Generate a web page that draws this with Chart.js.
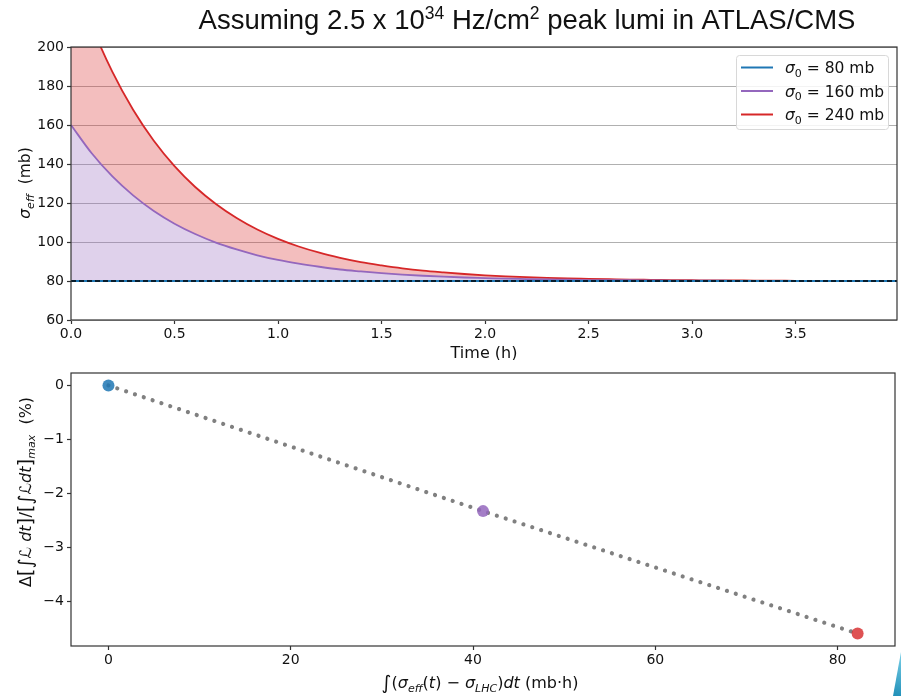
<!DOCTYPE html>
<html>
<head>
<meta charset="utf-8">
<script src="https://cdn.jsdelivr.net/npm/chart.js@4.4.1/dist/chart.umd.min.js"></script>
<style>
  html,body{margin:0;padding:0;background:#fff;}
  #wrap{position:relative;width:901px;height:696px;overflow:hidden;}
  canvas{position:absolute;left:0;}
</style>
</head>
<body>
<div id="wrap">
  <canvas id="top" width="901" height="360" style="top:0"></canvas>
  <canvas id="bot" width="901" height="336" style="top:360px"></canvas>
</div>
<script>
// ---------- data (top panel) ----------
const times = [0.0,0.1,0.2,0.3,0.4,0.5,0.6,0.7,0.8,0.9,1.0,1.1,1.2,1.3,1.4,1.5,1.6,1.7,1.8,1.9,2.0,2.1,2.2,2.3,2.4,2.5,2.6,2.7,2.8,2.9,3.0,3.1,3.2,3.3,3.4,3.5,3.6,3.7,3.8,3.9,4.0];
const sigma80 = [80,80,80,80,80,80,80,80,80,80,80,80,80,80,80,80,80,80,80,80,80,80,80,80,80,80,80,80,80,80,80,80,80,80,80,80,80,80,80,80,80];
const sigma160 = [160,145.5,133.6,123.9,115.9,109.4,104.1,99.7,96.2,93.2,90.8,88.9,87.3,85.9,84.9,84.0,83.3,82.7,82.2,81.8,81.5,81.2,81.0,80.8,80.7,80.5,80.4,80.4,80.3,80.2,80.2,80.2,80.1,80.1,80.1,80.1,80.0,80.0,80.0,80.0,80.0];
const sigma240 = [240,211.0,187.2,167.8,151.9,138.9,128.2,119.5,112.3,106.4,101.6,97.7,94.5,91.9,89.7,88.0,86.5,85.3,84.4,83.6,82.9,82.4,82.0,81.6,81.3,81.1,80.9,80.7,80.6,80.5,80.4,80.3,80.3,80.2,80.2,80.1,80.1,80.1,80.1,80.0,80.0];
const sigmaLHC = 80;
const sigma0Values = [80, 160, 240];
const topYTicks = [60, 80, 100, 120, 140, 160, 180, 200];
const topXTicks = [0.0, 0.5, 1.0, 1.5, 2.0, 2.5, 3.0, 3.5];

// ---------- data (bottom panel) ----------
const intSigmaExcess = [0, 41.1, 82.2];      // ∫(σeff − σLHC) dt  (mb·h)
const lumiLossPct = [0, -2.33, -4.6];        // Δ[∫L dt]/[∫L dt]max (%)
const botXTicks = [0, 20, 40, 60, 80];
const botYTicks = [0, -1, -2, -3, -4];

const C_BLUE = '#1f77b4', C_PURPLE = '#9467bd', C_RED = '#d62728';
const FONT = '"DejaVu Sans", sans-serif';
const TXT = '#111';

function pts(xs, ys){ return xs.map((x,i)=>({x:x, y:ys[i]})); }

function richWidth(ctx, segs){
  let w = 0;
  for (const s of segs){ ctx.font = s.f; w += ctx.measureText(s.t).width; }
  return w;
}
function drawRich(ctx, segs, cx, base, rot, align){
  ctx.save();
  ctx.translate(cx, base);
  if (rot) ctx.rotate(-Math.PI/2);
  const w = richWidth(ctx, segs);
  let x = align === 'left' ? 0 : -w/2;
  ctx.textBaseline = 'alphabetic';
  ctx.textAlign = 'left';
  for (const s of segs){
    ctx.font = s.f;
    ctx.fillStyle = s.c || TXT;
    ctx.fillText(s.t, x, s.dy || 0);
    x += ctx.measureText(s.t).width;
  }
  ctx.restore();
}
const R = (n)=> n + 'px ' + FONT;
const I = (n)=> 'italic ' + n + 'px ' + FONT;

function boxPlugin(id){
  return {
    id: id,
    afterDraw(chart){
      const {ctx, chartArea:a} = chart;
      ctx.save();
      ctx.strokeStyle = '#333';
      ctx.lineWidth = 1.2;
      ctx.strokeRect(a.left, a.top, a.right - a.left, a.bottom - a.top);
      ctx.restore();
    }
  };
}

// ---------- top chart ----------
const topDecor = {
  id: 'topDecor',
  afterDraw(chart){
    const ctx = chart.ctx;
    // page title
    const TF = (n)=> n + 'px "Liberation Sans", Arial, sans-serif';
    drawRich(ctx, [
      {t:'Assuming 2.5 x 10', f:TF(27.5)},
      {t:'34', f:TF(17.5), dy:-10},
      {t:' Hz/cm', f:TF(27.5)},
      {t:'2', f:TF(17.5), dy:-10},
      {t:' peak lumi in ATLAS/CMS', f:TF(27.5)}
    ], 527, 29, false);
    // axis titles
    drawRich(ctx, [
      {t:'σ', f:I(15.5)}, {t:'eff', f:I(11), dy:4}, {t:'  (mb)', f:R(15.5)}
    ], 30, 183, true);
    drawRich(ctx, [{t:'Time (h)', f:R(16)}], 484, 358, false);
    // legend
    const bx = 736, by = 55, bw = 152, bh = 74;
    ctx.save();
    ctx.fillStyle = 'rgba(255,255,255,0.85)';
    ctx.strokeStyle = '#d8d8d8';
    ctx.lineWidth = 1;
    ctx.beginPath();
    ctx.roundRect(bx + 0.5, by + 0.5, bw, bh, 3);
    ctx.fill(); ctx.stroke();
    const cols = [C_BLUE, C_PURPLE, C_RED];
    const rows = [67.5, 91, 114.5];
    for (let i = 0; i < 3; i++){
      ctx.strokeStyle = cols[i];
      ctx.lineWidth = 2;
      ctx.beginPath();
      ctx.moveTo(741, rows[i]); ctx.lineTo(773, rows[i]);
      ctx.stroke();
      drawRich(ctx, [
        {t:'σ', f:I(15.5)}, {t:'0', f:R(11), dy:3.5}, {t:' = ' + sigma0Values[i] + ' mb', f:R(15.5)}
      ], 785, rows[i] + 5.5, false, 'left');
    }
    ctx.restore();
  }
};

new Chart(document.getElementById('top'), {
  type: 'line',
  data: {
    datasets: [
      { label: 'σ0 = 80 mb', data: pts(times, sigma80), borderColor: C_BLUE, borderWidth: 1.8,
        pointRadius: 0, fill: false, order: 0 },
      { label: 'σ0 = 160 mb', data: pts(times, sigma160), borderColor: C_PURPLE, borderWidth: 1.8,
        pointRadius: 0, cubicInterpolationMode: 'monotone',
        fill: { target: '-1' }, backgroundColor: 'rgba(148,103,189,0.3)', order: 0 },
      { label: 'σ0 = 240 mb', data: pts(times, sigma240), borderColor: C_RED, borderWidth: 1.8,
        pointRadius: 0, cubicInterpolationMode: 'monotone',
        fill: { target: '-1' }, backgroundColor: 'rgba(214,39,40,0.3)', order: 0 },
      { label: 'σLHC', data: pts([times[0], times[times.length-1]], [sigmaLHC, sigmaLHC]),
        borderColor: '#000', borderWidth: 1.5, borderDash: [5, 3],
        pointRadius: 0, fill: false, order: -1 }
    ]
  },
  options: {
    responsive: false, animation: false,
    layout: { padding: { top: 47, right: 4, left: 0, bottom: 0 } },
    plugins: { legend: { display: false }, tooltip: { enabled: false } },
    scales: {
      x: {
        type: 'linear', min: 0, max: 3.99,
        afterFit: s => { s.height = 40; },
        afterBuildTicks: s => { s.ticks = topXTicks.map(v => ({value: v})); },
        ticks: { font: { family: 'DejaVu Sans', size: 14 }, color: TXT, padding: 2, maxRotation: 0,
                 callback: v => Number(v).toFixed(1) },
        grid: { drawOnChartArea: false, tickLength: 4, tickColor: '#333', tickWidth: 1.2 },
        border: { display: false }
      },
      y: {
        min: 60, max: 200,
        afterFit: s => { s.width = 71; },
        afterBuildTicks: s => { s.ticks = topYTicks.map(v => ({value: v})); },
        ticks: { font: { family: 'DejaVu Sans', size: 14 }, color: TXT, padding: 3 },
        grid: { color: '#b0b0b0', lineWidth: 1, tickLength: 4, tickColor: '#333', tickWidth: 1.2 },
        border: { display: false }
      }
    }
  },
  plugins: [boxPlugin('topBox'), topDecor]
});

// ---------- bottom chart ----------
const botDecor = {
  id: 'botDecor',
  afterDraw(chart){
    const ctx = chart.ctx;
    drawRich(ctx, [
      {t:'Δ', f:R(16)}, {t:'[', f:R(20), dy:1}, {t:'∫', f:R(19), dy:1}, {t:'ℒ', f:R(16)},
      {t:' ', f:R(16)}, {t:'dt', f:I(16)}, {t:']', f:R(20), dy:1}, {t:'/', f:R(16)},
      {t:'[', f:R(20), dy:1}, {t:'∫', f:R(19), dy:1}, {t:'ℒ', f:R(16)}, {t:'dt', f:I(16)},
      {t:']', f:R(20), dy:1}, {t:'max', f:I(11), dy:4}, {t:'  (%)', f:R(16)}
    ], 31, 132, true);
    drawRich(ctx, [
      {t:'∫', f:R(19), dy:1}, {t:'(', f:R(16)}, {t:'σ', f:I(16)}, {t:'eff', f:I(11), dy:4},
      {t:'(', f:R(16)}, {t:'t', f:I(16)}, {t:') − ', f:R(16)}, {t:'σ', f:I(16)},
      {t:'LHC', f:I(11), dy:4}, {t:')', f:R(16)}, {t:'dt', f:I(16)}, {t:' (mb·h)', f:R(16)}
    ], 480, 328, false);
    // slide decoration in the corner
    ctx.save();
    const g = ctx.createLinearGradient(890, 336, 901, 290);
    g.addColorStop(0, '#1f8fb8'); g.addColorStop(1, '#7fd3ea');
    ctx.fillStyle = g;
    ctx.beginPath();
    ctx.moveTo(893, 336); ctx.lineTo(901, 292); ctx.lineTo(901, 336); ctx.closePath();
    ctx.fill();
    ctx.restore();
  }
};

new Chart(document.getElementById('bot'), {
  type: 'scatter',
  data: {
    datasets: [
      { data: pts(intSigmaExcess, lumiLossPct), showLine: true, borderColor: '#808080',
        borderWidth: 4.2, borderDash: [0.01, 9.3], borderCapStyle: 'round',
        pointRadius: 0, order: 1 },
      { data: pts(intSigmaExcess, lumiLossPct), showLine: false,
        pointRadius: 6, pointBorderWidth: 0,
        pointBackgroundColor: ['rgba(31,119,180,0.85)', 'rgba(148,103,189,0.85)', 'rgba(214,39,40,0.8)'],
        order: 0 }
    ]
  },
  options: {
    responsive: false, animation: false,
    layout: { padding: { top: 13, right: 4, left: 0, bottom: 0 } },
    plugins: { legend: { display: false }, tooltip: { enabled: false } },
    scales: {
      x: {
        type: 'linear', min: -4.11, max: 86.3,
        afterFit: s => { s.height = 50; },
        afterBuildTicks: s => { s.ticks = botXTicks.map(v => ({value: v})); },
        ticks: { font: { family: 'DejaVu Sans', size: 14 }, color: TXT, padding: 2, maxRotation: 0 },
        grid: { display: true, drawOnChartArea: false, tickLength: 4, tickColor: '#333', tickWidth: 1.2 },
        border: { display: false }
      },
      y: {
        min: -4.83, max: 0.23,
        afterFit: s => { s.width = 71; },
        afterBuildTicks: s => { s.ticks = botYTicks.map(v => ({value: v})); },
        ticks: { font: { family: 'DejaVu Sans', size: 14 }, color: TXT, padding: 3,
                 callback: v => (v < 0 ? '−' + Math.abs(v) : String(v)) },
        grid: { display: true, drawOnChartArea: false, tickLength: 4, tickColor: '#333', tickWidth: 1.2 },
        border: { display: false }
      }
    }
  },
  plugins: [boxPlugin('botBox'), botDecor]
});
</script>
</body>
</html>
